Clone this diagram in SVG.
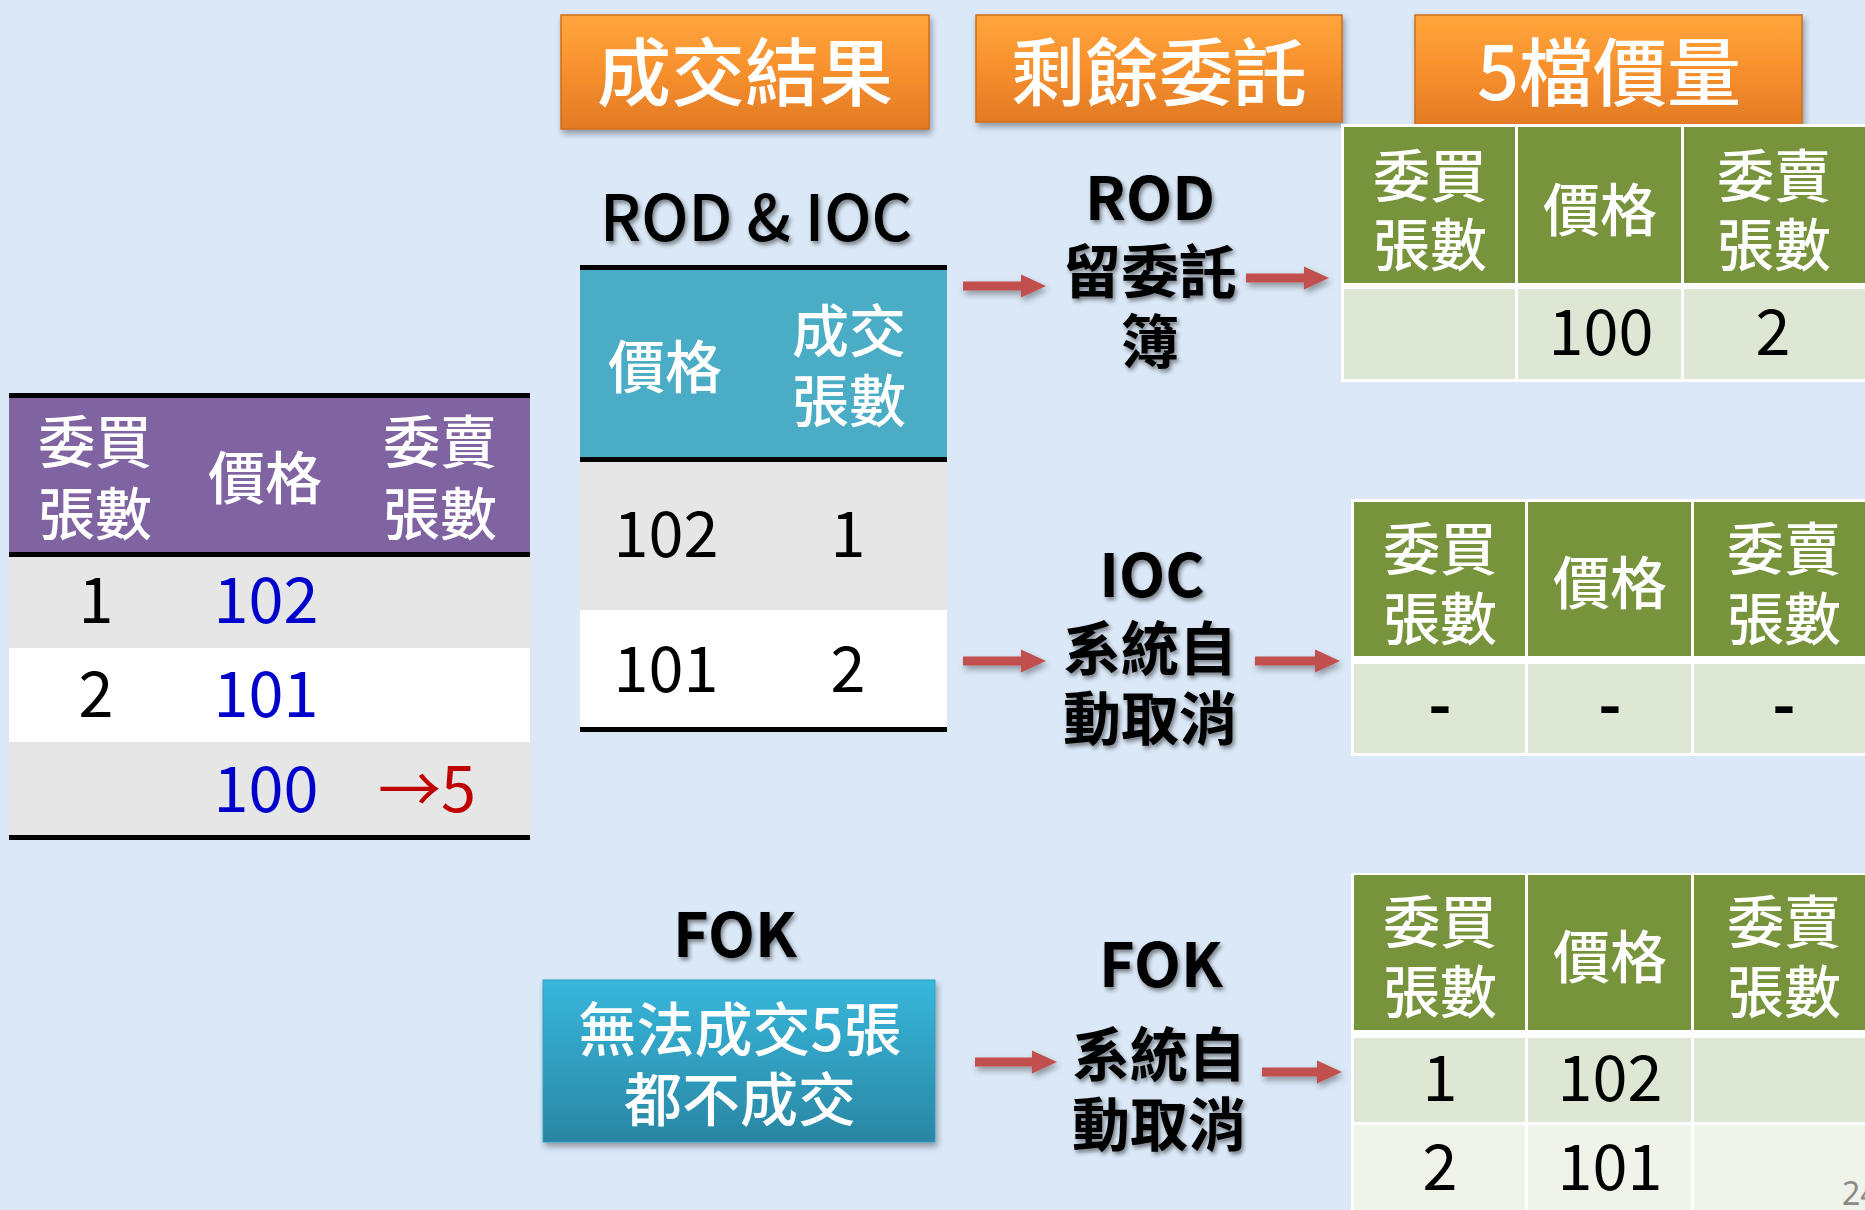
<svg xmlns="http://www.w3.org/2000/svg" width="1865" height="1210" viewBox="0 0 1865 1210">
<defs>
<linearGradient id="og" x1="0" y1="0" x2="0" y2="1"><stop offset="0" stop-color="#FFA63C"/><stop offset="0.45" stop-color="#F8922E"/><stop offset="1" stop-color="#E27A25"/></linearGradient>
<linearGradient id="bgr" x1="0" y1="0" x2="0" y2="1"><stop offset="0" stop-color="#37B7DC"/><stop offset="1" stop-color="#2A86A2"/></linearGradient>
<filter id="sh" x="-10%" y="-10%" width="125%" height="140%"><feDropShadow dx="2" dy="4" stdDeviation="3" flood-color="#000" flood-opacity="0.35"/></filter>
<filter id="tsh" x="-10%" y="-10%" width="130%" height="140%"><feDropShadow dx="2" dy="3" stdDeviation="2" flood-color="#000" flood-opacity="0.45"/></filter>
<marker id="ah" markerUnits="userSpaceOnUse" markerWidth="26" markerHeight="24" viewBox="0 0 26 24" refX="1" refY="12" orient="auto"><path d="M0,0.5 L25,12 L0,23.5 z" fill="#C0504D"/></marker>
</defs>
<style>
text{font-family:"Noto Sans CJK TC","Noto Sans",sans-serif}
.t{font-size:74px;font-weight:500;fill:#fff;text-anchor:middle;dominant-baseline:central}
.h{font-size:57px;font-weight:500;fill:#fff;text-anchor:middle;dominant-baseline:central}
.n{font-size:63px;text-anchor:middle;fill:#000}
.b{fill:#0000CC}
.lb{font-weight:700;text-anchor:middle;fill:#000}
.lc{font-size:58px;font-weight:700;text-anchor:middle;fill:#000;dominant-baseline:central}
.arr{stroke:#C0504D;stroke-width:9;marker-end:url(#ah)}
.blk{fill:#000}
.gr{fill:#77933C}
.l1{fill:#DEE7D3}
.l2{fill:#EFF3EA}
</style>
<rect x="0" y="0" width="1865" height="1210" fill="#DAE8F7"/>

<g id="title-result" filter="url(#sh)">
<rect x="561" y="15" width="368" height="114" fill="url(#og)" stroke="#D06E1E" stroke-width="1.5"/>
<text class="t" x="745" y="67">成交結果</text>
</g>
<g id="title-remain" filter="url(#sh)">
<rect x="976" y="15" width="366" height="107" fill="url(#og)" stroke="#D06E1E" stroke-width="1.5"/>
<text class="t" x="1159" y="67">剩餘委託</text>
</g>
<g id="title-5level" filter="url(#sh)">
<rect x="1415" y="15" width="387" height="112" fill="url(#og)" stroke="#D06E1E" stroke-width="1.5"/>
<text class="t" x="1609" y="67">5檔價量</text>
</g>

<g id="order-table">
<rect x="9" y="393" width="521" height="5" class="blk"/>
<rect x="9" y="398" width="521" height="154" fill="#8064A2"/>
<rect x="9" y="552" width="521" height="5" class="blk"/>
<rect x="9" y="557" width="521" height="91" fill="#E6E6E6"/>
<rect x="9" y="648" width="521" height="94" fill="#FFFFFF"/>
<rect x="9" y="742" width="521" height="93" fill="#E6E6E6"/>
<rect x="9" y="835" width="521" height="5" class="blk"/>
<text class="h" x="95" y="438">委買</text>
<text class="h" x="95" y="510">張數</text>
<text class="h" x="265" y="474">價格</text>
<text class="h" x="440" y="438">委賣</text>
<text class="h" x="440" y="510">張數</text>
<text class="n" x="96" y="623">1</text>
<text class="n b" x="266" y="623">102</text>
<text class="n" x="96" y="717">2</text>
<text class="n b" x="266" y="717">101</text>
<text class="n b" x="266" y="812">100</text>
<text class="n" x="427" y="812" style="fill:#C00000">→5</text>
</g>

<g id="label-rod-ioc" filter="url(#tsh)">
<text x="756" y="241" font-size="64" font-weight="500" text-anchor="middle" textLength="312" lengthAdjust="spacingAndGlyphs">ROD &amp; IOC</text>
</g>

<g id="trade-table">
<rect x="580" y="265" width="367" height="5" class="blk"/>
<rect x="580" y="270" width="367" height="187" fill="#4BACC6"/>
<rect x="580" y="457" width="367" height="5" class="blk"/>
<rect x="580" y="462" width="367" height="148" fill="#E6E6E6"/>
<rect x="580" y="610" width="367" height="117" fill="#FFFFFF"/>
<rect x="580" y="727" width="367" height="5" class="blk"/>
<text class="h" x="665" y="363">價格</text>
<text class="h" x="849" y="327">成交</text>
<text class="h" x="849" y="397">張數</text>
<text class="n" x="666" y="557">102</text>
<text class="n" x="848" y="557">1</text>
<text class="n" x="666" y="692">101</text>
<text class="n" x="848" y="692">2</text>
</g>

<g id="label-rod" filter="url(#tsh)">
<text class="lb" x="1150" y="220" font-size="60">ROD</text>
<text class="lc" x="1150" y="268">留委託</text>
<text class="lc" x="1150" y="338">簿</text>
</g>

<g id="label-ioc" filter="url(#tsh)">
<text class="lb" x="1152" y="597" font-size="60">IOC</text>
<text class="lc" x="1150" y="645">系統自</text>
<text class="lc" x="1150" y="715">動取消</text>
</g>

<g id="label-fok-left" filter="url(#tsh)">
<text class="lb" x="735" y="957" font-size="61">FOK</text>
</g>

<g id="fok-box" filter="url(#sh)">
<rect x="543" y="980" width="392" height="162" fill="url(#bgr)" stroke="#2F9FC0" stroke-width="1"/>
<text x="740" y="1026" font-size="58" font-weight="500" fill="#fff" text-anchor="middle" dominant-baseline="central">無法成交5張</text>
<text x="740" y="1096" font-size="58" font-weight="500" fill="#fff" text-anchor="middle" dominant-baseline="central">都不成交</text>
</g>

<g id="label-fok-right" filter="url(#tsh)">
<text class="lb" x="1161" y="987" font-size="61">FOK</text>
<text class="lc" x="1159" y="1051">系統自</text>
<text class="lc" x="1159" y="1121">動取消</text>
</g>

<g id="book-rod">
<rect x="1341" y="124" width="530" height="258" fill="#FFFFFF"/>
<rect x="1344" y="127" width="171" height="156" class="gr"/>
<rect x="1518" y="127" width="163" height="156" class="gr"/>
<rect x="1684" y="127" width="190" height="156" class="gr"/>
<rect x="1344" y="289" width="171" height="90" class="l1"/>
<rect x="1518" y="289" width="163" height="90" class="l1"/>
<rect x="1684" y="289" width="190" height="90" class="l1"/>
<text class="h" x="1430" y="172">委買</text>
<text class="h" x="1430" y="241">張數</text>
<text class="h" x="1600" y="206">價格</text>
<text class="h" x="1774" y="172">委賣</text>
<text class="h" x="1774" y="241">張數</text>
<text class="n" x="1601" y="355">100</text>
<text class="n" x="1773" y="355">2</text>
</g>

<g id="book-ioc">
<rect x="1351" y="499" width="520" height="257" fill="#FFFFFF"/>
<rect x="1354" y="502" width="171" height="154" class="gr"/>
<rect x="1528" y="502" width="163" height="154" class="gr"/>
<rect x="1694" y="502" width="180" height="154" class="gr"/>
<rect x="1354" y="664" width="171" height="89" class="l1"/>
<rect x="1528" y="664" width="163" height="89" class="l1"/>
<rect x="1694" y="664" width="180" height="89" class="l1"/>
<text class="h" x="1440" y="545">委買</text>
<text class="h" x="1440" y="615">張數</text>
<text class="h" x="1610" y="579">價格</text>
<text class="h" x="1784" y="545">委賣</text>
<text class="h" x="1784" y="615">張數</text>
<text class="n" x="1440" y="728" font-weight="700">-</text>
<text class="n" x="1610" y="728" font-weight="700">-</text>
<text class="n" x="1784" y="728" font-weight="700">-</text>
</g>

<g id="book-fok">
<rect x="1351" y="873" width="520" height="340" fill="#FFFFFF"/>
<rect x="1354" y="875" width="171" height="155" class="gr"/>
<rect x="1528" y="875" width="163" height="155" class="gr"/>
<rect x="1694" y="875" width="180" height="155" class="gr"/>
<rect x="1354" y="1038" width="171" height="84" class="l1"/>
<rect x="1528" y="1038" width="163" height="84" class="l1"/>
<rect x="1694" y="1038" width="180" height="84" class="l1"/>
<rect x="1354" y="1125" width="171" height="90" class="l2"/>
<rect x="1528" y="1125" width="163" height="90" class="l2"/>
<rect x="1694" y="1125" width="180" height="90" class="l2"/>
<text class="h" x="1440" y="918">委買</text>
<text class="h" x="1440" y="988">張數</text>
<text class="h" x="1610" y="953">價格</text>
<text class="h" x="1784" y="918">委賣</text>
<text class="h" x="1784" y="988">張數</text>
<text class="n" x="1440" y="1101">1</text>
<text class="n" x="1610" y="1101">102</text>
<text class="n" x="1440" y="1190">2</text>
<text class="n" x="1610" y="1190">101</text>
</g>

<g id="connectors" filter="url(#sh)">
<line class="arr" x1="963" y1="286" x2="1022" y2="286"/>
<line class="arr" x1="1246" y1="278" x2="1305" y2="278"/>
<line class="arr" x1="963" y1="661" x2="1022" y2="661"/>
<line class="arr" x1="1255" y1="661" x2="1316" y2="661"/>
<line class="arr" x1="975" y1="1062" x2="1033" y2="1062"/>
<line class="arr" x1="1262" y1="1072" x2="1318" y2="1072"/>
</g>

<text x="1842" y="1205" font-size="32" fill="#8A8A8A" style="font-family:'Noto Sans',sans-serif">24</text>
</svg>
